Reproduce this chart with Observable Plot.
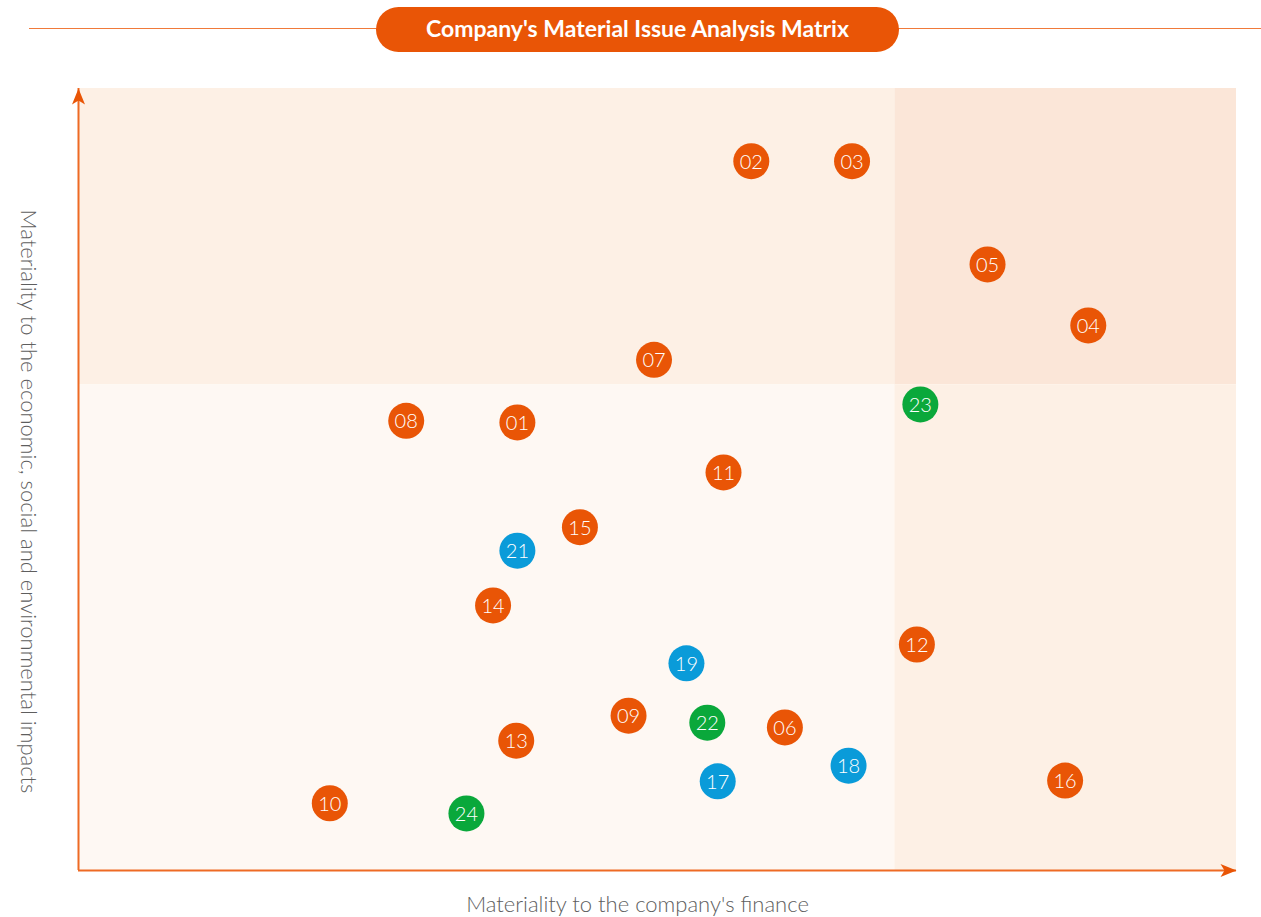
<!DOCTYPE html>
<html>
<head>
<meta charset="utf-8">
<script src="https://cdn.jsdelivr.net/npm/d3@7"></script>
<script src="https://cdn.jsdelivr.net/npm/@observablehq/plot@0.6"></script>
<style>
  html, body { margin: 0; padding: 0; background: #ffffff; }
  body { width: 1261px; height: 917px; overflow: hidden; font-family: Lato, "Noto Sans", sans-serif; }
  #header { position: relative; width: 1261px; height: 58px; }
  #header .line { position: absolute; left: 29px; right: 0; top: 28px; height: 0; border-top: 1.5px solid #f07a3a; }
  #header .pill { position: absolute; left: 376px; top: 7px; width: 523px; height: 45px; border-radius: 23px;
    background: #e95506; color: #fff; font: 700 23px Lato, "Noto Sans", sans-serif; line-height: 43px; text-align: center; }
  #chart svg { display: block; }
</style>
</head>
<body>
<div id="header"><div class="line"></div><div class="pill">Company's Material Issue Analysis Matrix</div></div>
<div id="chart"></div>
<script>
// Issues: id, category group, x = materiality to finance, y = materiality to impacts
const issueIds = ["02","03","05","04","07","23","08","01","11","15","21","14","12","19","09","22","06","13","18","17","16","10","24"];
const issueGroup = ["E","E","E","E","E","G","E","E","E","E","S","E","E","S","E","G","E","E","S","S","E","E","G"];
const financeScore = [5.81,6.68,7.85,8.72,4.97,7.27,2.83,3.79,5.57,4.33,3.79,3.58,7.24,5.25,4.75,5.43,6.10,3.78,6.65,5.52,8.52,2.17,3.35];
const impactScore  = [9.07,9.07,7.75,6.97,6.53,5.96,5.75,5.73,5.09,4.39,4.09,3.39,2.89,2.65,1.98,1.89,1.83,1.66,1.34,1.14,1.15,0.86,0.73];

const groupNames = ["E","S","G"];
const groupColors = ["#e95506","#0a9bd9","#0aa83b"];

// Quadrant thresholds and axis extents
const axisMin = 0, axisMax = 10;
const financeSplit = 7.05, impactSplit = 6.21;
const quadX1 = [axisMin, financeSplit, axisMin, financeSplit];
const quadX2 = [financeSplit, axisMax, financeSplit, axisMax];
const quadY1 = [impactSplit, impactSplit, axisMin, axisMin];
const quadY2 = [axisMax, axisMax, impactSplit, impactSplit];
const quadFill = ["#fdf0e5", "#fbe6d8", "#fef8f3", "#fdf0e5"];

const xLabel = "Materiality to the company's finance";
const yLabel = "Materiality to the economic, social and environmental impacts";

const issues = issueIds.map((id, i) => ({id, group: issueGroup[i], x: financeScore[i], y: impactScore[i]}));
const quads = quadFill.map((f, i) => ({x1: quadX1[i], x2: quadX2[i], y1: quadY1[i], y2: quadY2[i], fill: f}));

const arrowSymbol = {
  draw(ctx) {
    ctx.moveTo(0, 0);
    ctx.lineTo(6.5, 16);
    ctx.lineTo(0, 12);
    ctx.lineTo(-6.5, 16);
    ctx.closePath();
  }
};

const axisColor = "#ee6a24";
const labelFont = "Lato, 'Noto Sans', sans-serif";

const plot = Plot.plot({
  width: 1261,
  height: 859,
  marginLeft: 78,
  marginRight: 25,
  marginTop: 30,
  marginBottom: 47,
  x: {domain: [axisMin, axisMax], axis: null},
  y: {domain: [axisMin, axisMax], axis: null},
  color: {domain: groupNames, range: groupColors},
  style: {fontFamily: labelFont, background: "transparent"},
  marks: [
    Plot.rect(quads, {x1: "x1", x2: "x2", y1: "y1", y2: "y2", fill: d => d.fill}),
    Plot.ruleX([axisMin], {y1: axisMin, y2: axisMax, stroke: axisColor, strokeWidth: 2}),
    Plot.ruleY([axisMin], {x1: axisMin, x2: axisMax, stroke: axisColor, strokeWidth: 2}),
    Plot.dot([{x: axisMin, y: axisMax}], {x: "x", y: "y", symbol: arrowSymbol, fill: "#e95506", stroke: "none", r: 8}),
    Plot.dot([{x: axisMax, y: axisMin}], {x: "x", y: "y", symbol: arrowSymbol, fill: "#e95506", stroke: "none", r: 8, rotate: 90}),
    Plot.dot(issues, {x: "x", y: "y", r: 18, fill: "group", stroke: "none"}),
    Plot.text(issues, {x: "x", y: "y", text: "id", fill: "white", fontSize: 20, fontWeight: 300, dy: 1}),
    Plot.text([xLabel], {frameAnchor: "bottom", textAnchor: "middle", lineAnchor: "middle", dx: -20, dy: 34, fontSize: 22, fontWeight: 300, fill: "#5e5e5e"}),
    Plot.text([yLabel], {frameAnchor: "left", textAnchor: "middle", lineAnchor: "middle", dx: -50, dy: 22, rotate: 90, fontSize: 22, fontWeight: 300, fill: "#5e5e5e"})
  ]
});
document.getElementById("chart").appendChild(plot);
</script>
</body>
</html>
